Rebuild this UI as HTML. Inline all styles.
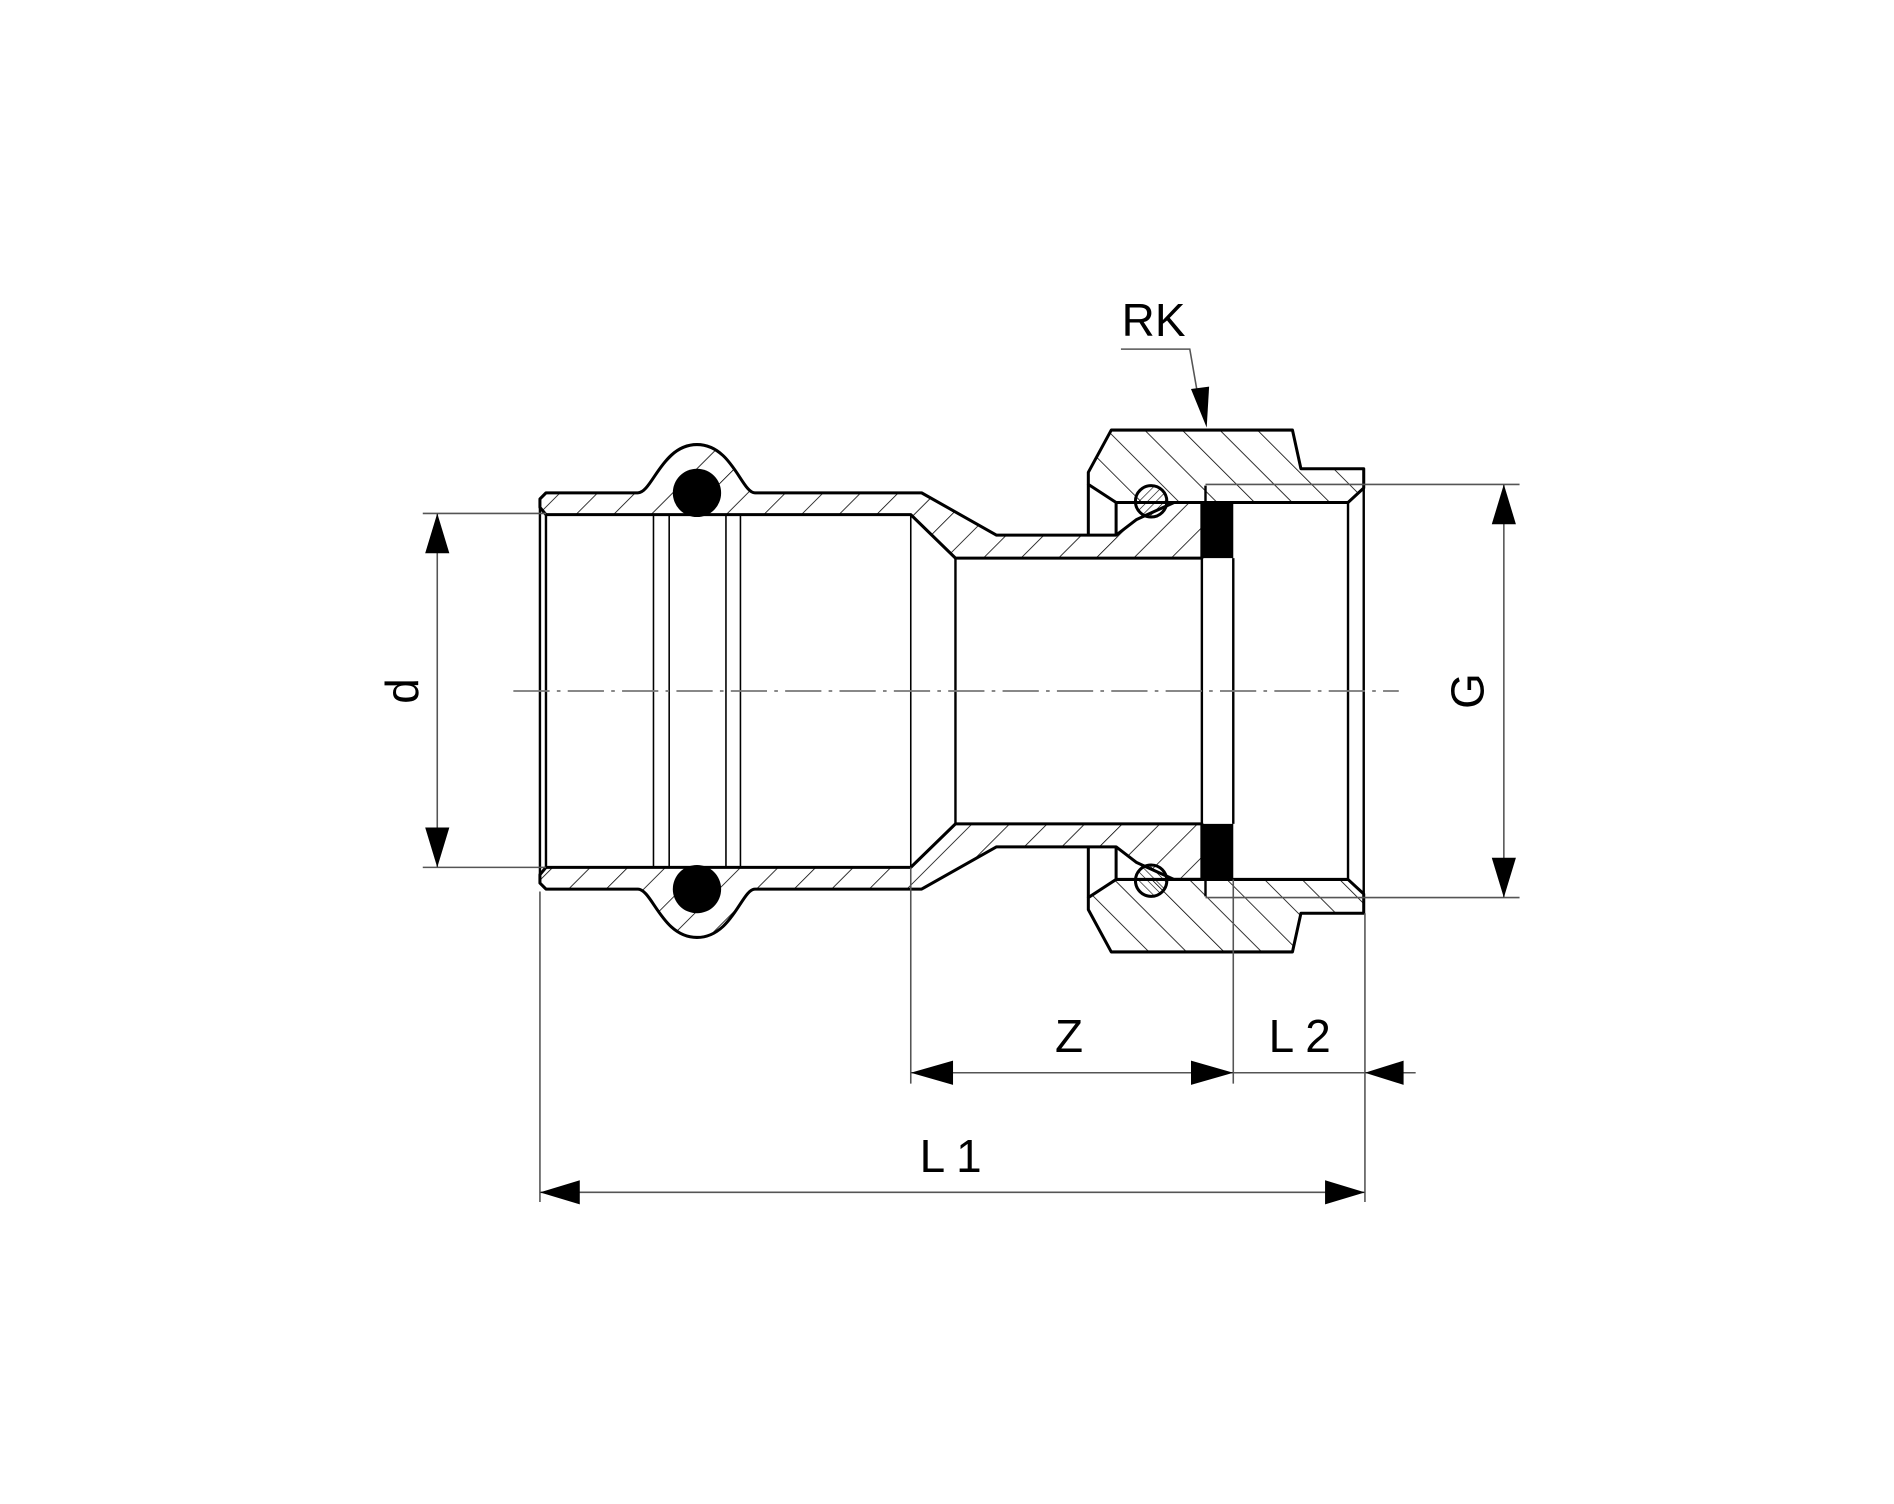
<!DOCTYPE html>
<html><head><meta charset="utf-8"><style>
html,body{margin:0;padding:0;background:#fff;}
svg{display:block;}
text{font-family:"Liberation Sans",sans-serif;fill:#000;}
</style></head><body>
<svg width="1894" height="1504" viewBox="0 0 1568 1245" preserveAspectRatio="none" xmlns="http://www.w3.org/2000/svg">
<defs>
<pattern id="hA" patternUnits="userSpaceOnUse" width="22" height="22" patternTransform="rotate(45)"><line x1="0" y1="0" x2="0" y2="22" stroke="#000" stroke-width="1.3"/></pattern>
<pattern id="hB" patternUnits="userSpaceOnUse" width="22" height="22" patternTransform="rotate(-45)"><line x1="0" y1="0" x2="0" y2="22" stroke="#000" stroke-width="1.3"/></pattern>
<pattern id="hF" patternUnits="userSpaceOnUse" width="5" height="5" patternTransform="rotate(45)"><line x1="0" y1="0" x2="0" y2="5" stroke="#000" stroke-width="1"/></pattern>
<g id="halfA">
  <!-- body wall -->
  <path d="M452,426 L447,420 L447,413 L452,408 L528,408 C540,408 548,368 577,368 C606,368 614,408 625,408 L763,408 L825,443 L924,443 L941,430 L972,416 L995,416 L995,462 L791,462 L754,426 Z" fill="url(#HATCH1)" stroke="#000" stroke-width="2.5" stroke-linejoin="round"/>
  <circle cx="577" cy="408" r="20" fill="#000"/>
  <!-- nut -->
  <path d="M901,401 L901,391 L920,356 L1070,356 L1077,388 L1129,388 L1129,404 L1116,416 L966,416 L924,416 Z" fill="url(#HATCH2)" stroke="#000" stroke-width="2.5" stroke-linejoin="round"/>
  <line x1="901" y1="401" x2="901" y2="443" stroke="#000" stroke-width="2.5"/>
  <line x1="924" y1="416" x2="924" y2="443" stroke="#000" stroke-width="2.5"/>
  <circle cx="953" cy="415" r="13" fill="url(#hF)" stroke="#000" stroke-width="2.5"/>
  <rect x="995" y="416" width="26" height="46" fill="#000"/>
  <line x1="998" y1="402" x2="998" y2="416" stroke="#000" stroke-width="2"/>
</g>
</defs>
<style>#top [fill="url(#HATCH1)"]{}</style>
<!-- top half -->
<g>
  <path d="M452,426 L447,420 L447,413 L452,408 L528,408 C540,408 548,368 577,368 C606,368 614,408 625,408 L763,408 L825,443 L924,443 L941,430 L972,416 L995,416 L995,462 L791,462 L754,426 Z" fill="url(#hA)" stroke="#000" stroke-width="2.5" stroke-linejoin="round"/>
  <circle cx="577" cy="408" r="20" fill="#000"/>
  <path d="M901,401 L901,391 L920,356 L1070,356 L1077,388 L1129,388 L1129,404 L1116,416 L924,416 Z" fill="url(#hB)" stroke="#000" stroke-width="2.5" stroke-linejoin="round"/>
  <line x1="901" y1="401" x2="901" y2="443" stroke="#000" stroke-width="2.5"/>
  <line x1="924" y1="416" x2="924" y2="443" stroke="#000" stroke-width="2.5"/>
  <circle cx="953" cy="415" r="13" fill="url(#hF)" stroke="#000" stroke-width="2.5"/>
  <rect x="995" y="416" width="26" height="46" fill="#000"/>
  <line x1="998" y1="402" x2="998" y2="416" stroke="#000" stroke-width="2"/>
</g>
<!-- bottom half (mirrored) -->
<g transform="translate(0,1144) scale(1,-1)">
  <path d="M452,426 L447,420 L447,413 L452,408 L528,408 C540,408 548,368 577,368 C606,368 614,408 625,408 L763,408 L825,443 L924,443 L941,430 L972,416 L995,416 L995,462 L791,462 L754,426 Z" fill="url(#hB)" stroke="#000" stroke-width="2.5" stroke-linejoin="round"/>
  <circle cx="577" cy="408" r="20" fill="#000"/>
  <path d="M901,401 L901,391 L920,356 L1070,356 L1077,388 L1129,388 L1129,404 L1116,416 L924,416 Z" fill="url(#hA)" stroke="#000" stroke-width="2.5" stroke-linejoin="round"/>
  <line x1="901" y1="401" x2="901" y2="443" stroke="#000" stroke-width="2.5"/>
  <line x1="924" y1="416" x2="924" y2="443" stroke="#000" stroke-width="2.5"/>
  <circle cx="953" cy="415" r="13" fill="url(#hF)" stroke="#000" stroke-width="2.5"/>
  <rect x="995" y="416" width="26" height="46" fill="#000"/>
  <line x1="998" y1="402" x2="998" y2="416" stroke="#000" stroke-width="2"/>
</g>
<!-- inner verticals -->
<g stroke="#000" stroke-width="2">
  <line x1="452" y1="426" x2="452" y2="718"/>
  <line x1="447" y1="420" x2="447" y2="724"/>
  <line x1="791" y1="462" x2="791" y2="682"/>
  <line x1="995" y1="462" x2="995" y2="682"/>
  <line x1="1021" y1="462" x2="1021" y2="682"/>
  <line x1="1116" y1="416" x2="1116" y2="728"/>
  <line x1="1129" y1="404" x2="1129" y2="740"/>
</g>
<g stroke="#000" stroke-width="1.3">
  <line x1="541" y1="426" x2="541" y2="718"/>
  <line x1="554" y1="426" x2="554" y2="718"/>
  <line x1="601" y1="426" x2="601" y2="718"/>
  <line x1="613" y1="426" x2="613" y2="718"/>
  <line x1="754" y1="426" x2="754" y2="718"/>
</g>
<!-- centerline -->
<line x1="425" y1="572" x2="1158" y2="572" stroke="#777" stroke-width="1.5" stroke-dasharray="30,6,3,6"/>
<!-- extension lines -->
<g stroke="#555" stroke-width="1.3" fill="none">
  <line x1="350" y1="425" x2="452" y2="425"/>
  <line x1="350" y1="718" x2="452" y2="718"/>
  <line x1="998" y1="401" x2="1258" y2="401"/>
  <line x1="998" y1="743" x2="1258" y2="743"/>
  <line x1="447" y1="738" x2="447" y2="995"/>
  <line x1="754" y1="718" x2="754" y2="897"/>
  <line x1="1021" y1="728" x2="1021" y2="897"/>
  <line x1="1130" y1="756" x2="1130" y2="995"/>
  <line x1="362" y1="425" x2="362" y2="718"/>
  <line x1="1245" y1="401" x2="1245" y2="743"/>
  <line x1="754" y1="888" x2="1172" y2="888"/>
  <line x1="447" y1="987" x2="1130" y2="987"/>
  <polyline points="928,289 985,289 993,335"/>
</g>
<!-- arrowheads -->
<g fill="#000">
  <polygon points="362,425 352,458 372,458"/>
  <polygon points="362,718 352,685 372,685"/>
  <polygon points="1245,401 1235,434 1255,434"/>
  <polygon points="1245,743 1235,710 1255,710"/>
  <polygon points="754,888 789,878 789,898"/>
  <polygon points="1021,888 986,878 986,898"/>
  <polygon points="1130,888 1162,878 1162,898"/>
  <polygon points="447,987 480,977 480,997"/>
  <polygon points="1130,987 1097,977 1097,997"/>
  <polygon points="999,354 986,322 1001,320"/>
</g>
<!-- labels -->
<text x="955" y="278" font-size="38" text-anchor="middle">RK</text>
<text x="885" y="871" font-size="38" text-anchor="middle">Z</text>
<text x="1076" y="871" font-size="38" text-anchor="middle">L 2</text>
<text x="787" y="970" font-size="38" text-anchor="middle">L 1</text>
<text transform="translate(346,572) rotate(-90)" font-size="38" text-anchor="middle">d</text>
<text transform="translate(1228,572) rotate(-90)" font-size="38" text-anchor="middle">G</text>
</svg>
</body></html>
